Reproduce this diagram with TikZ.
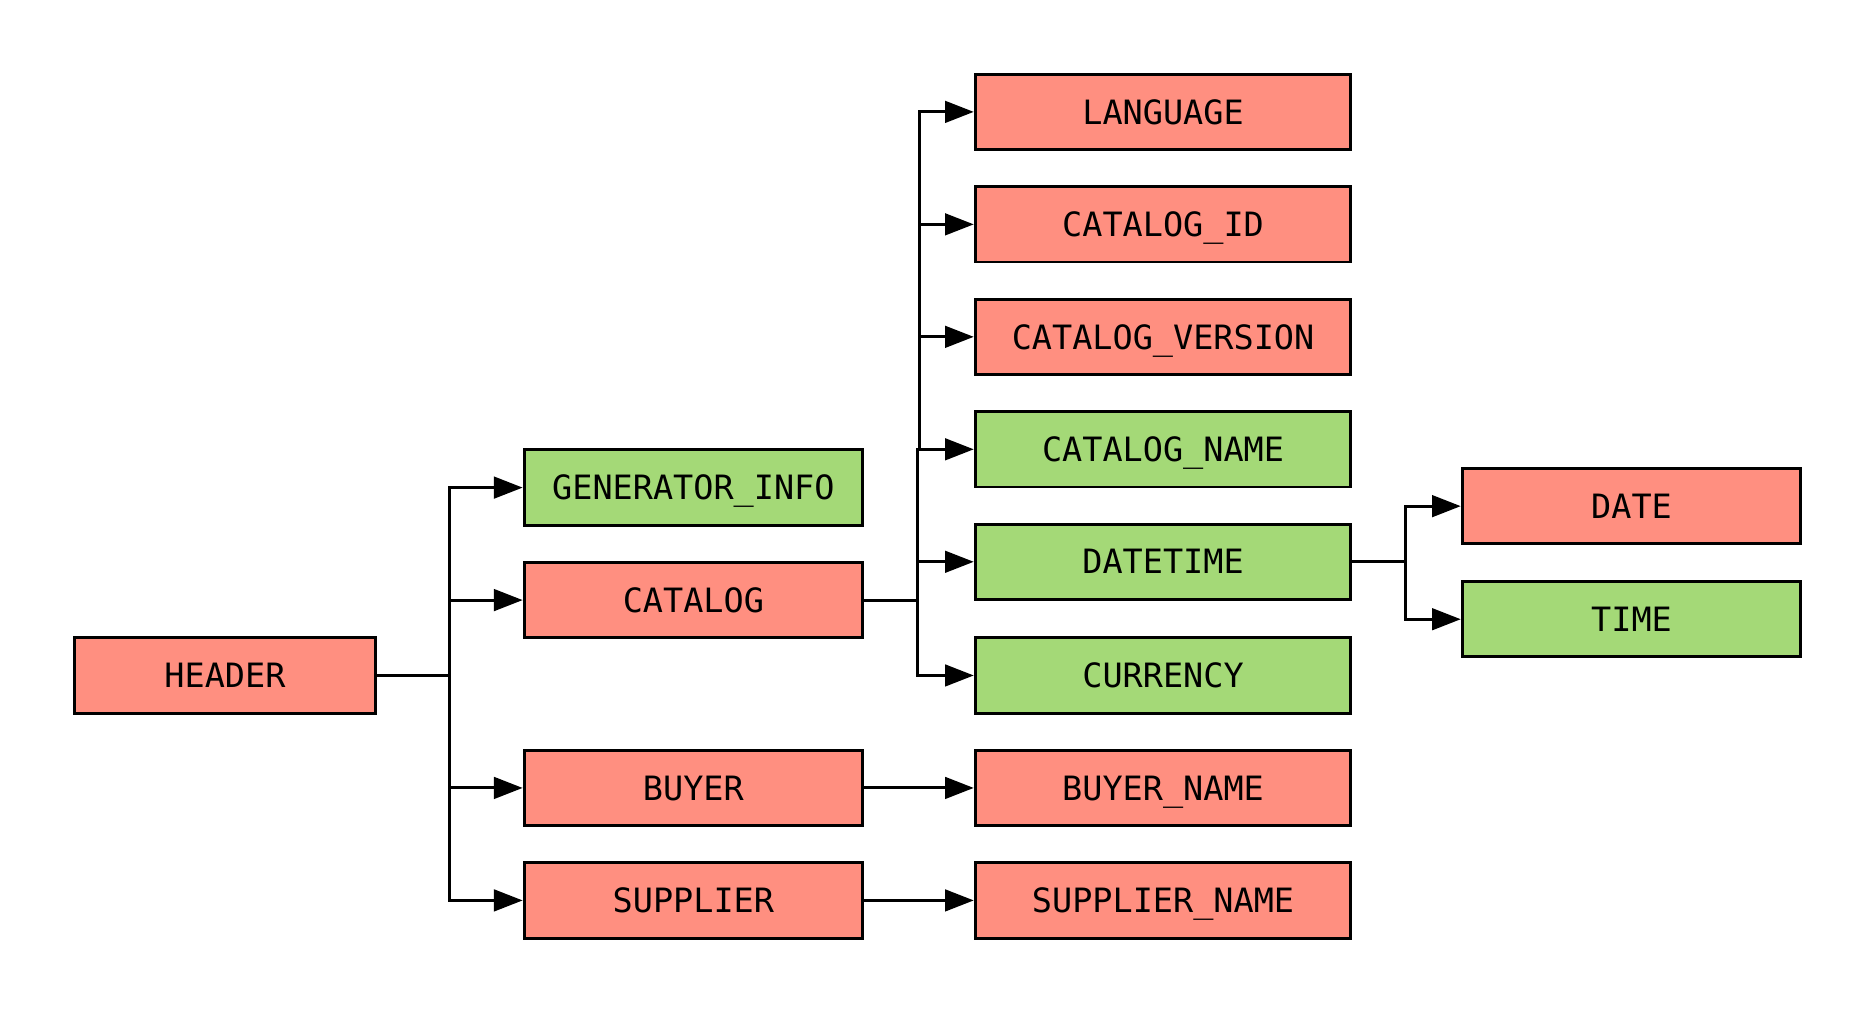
\documentclass[tikz,border=0pt]{standalone}
\usepackage{fontspec}
\setmonofont{DejaVu Sans Mono}
\usetikzlibrary{arrows.meta}
\definecolor{salmonbox}{RGB}{255,143,128}
\definecolor{greenbox}{RGB}{164,217,119}
\tikzset{
  box/.style={draw=black, line width=1.2pt, minimum height=31.5pt, inner sep=0pt,
    text height=10.2pt, text depth=0pt, font=\ttfamily\fontsize{14pt}{16pt}\selectfont},
  red/.style={box, fill=salmonbox},
  grn/.style={box, fill=greenbox},
  wA/.style={minimum width=126pt},
  wB/.style={minimum width=141.5pt},
  wC/.style={minimum width=157pt},
  conn/.style={line width=1.25pt, draw=black},
  arr/.style={conn, -{Triangle[length=12pt,width=9pt]}},
}
\begin{document}
\begin{tikzpicture}[x=0.5pt, y=-0.5pt]
\useasboundingbox (0,0) rectangle (1567,846.6);
% nodes
\node[red,wA] (header) at (188,564.5) {HEADER};
\node[grn,wB] (geninfo) at (579.5,407.5) {GENERATOR\_INFO};
\node[red,wB] (catalog) at (579.5,501.5) {CATALOG};
\node[red,wB] (buyer) at (579.5,658.5) {BUYER};
\node[red,wB] (supplier) at (579.5,752.5) {SUPPLIER};
\node[red,wC] (language) at (972,93.5) {LANGUAGE};
\node[red,wC] (catid) at (972,187.5) {CATALOG\_ID};
\node[red,wC] (catver) at (972,281.5) {CATALOG\_VERSION};
\node[grn,wC] (catname) at (972,375.5) {CATALOG\_NAME};
\node[grn,wC] (datetime) at (972,469.5) {DATETIME};
\node[grn,wC] (currency) at (972,564.5) {CURRENCY};
\node[red,wC] (buyername) at (972,658.5) {BUYER\_NAME};
\node[red,wC] (suppname) at (972,752.5) {SUPPLIER\_NAME};
\node[red,wB] (date) at (1363.5,423) {DATE};
\node[grn,wB] (time) at (1363.5,517.5) {TIME};
% junctions
\coordinate (hx) at (376,564.5);
\coordinate (cx) at (767,501.5);
\coordinate (cxu) at (768.5,375.5);
\coordinate (dx) at (1175,469.5);
% header branches
\draw[conn] (header.east) -- (hx);
\draw[arr] (hx) |- (geninfo.west);
\draw[arr] (hx) |- (catalog.west);
\draw[arr] (hx) |- (buyer.west);
\draw[arr] (hx) |- (supplier.west);
% catalog branches
\draw[conn] (catalog.east) -- (cx);
\draw[arr] (cxu) |- (language.west);
\draw[arr] (cxu) |- (catid.west);
\draw[arr] (cxu) |- (catver.west);
\draw[arr] (cx) |- (catname.west);
\draw[arr] (cx) |- (datetime.west);
\draw[arr] (cx) |- (currency.west);
% datetime branches
\draw[conn] (datetime.east) -- (dx);
\draw[arr] (dx) |- (date.west);
\draw[arr] (dx) |- (time.west);
% direct
\draw[arr] (buyer) -- (buyername);
\draw[arr] (supplier) -- (suppname);
\end{tikzpicture}
\end{document}
